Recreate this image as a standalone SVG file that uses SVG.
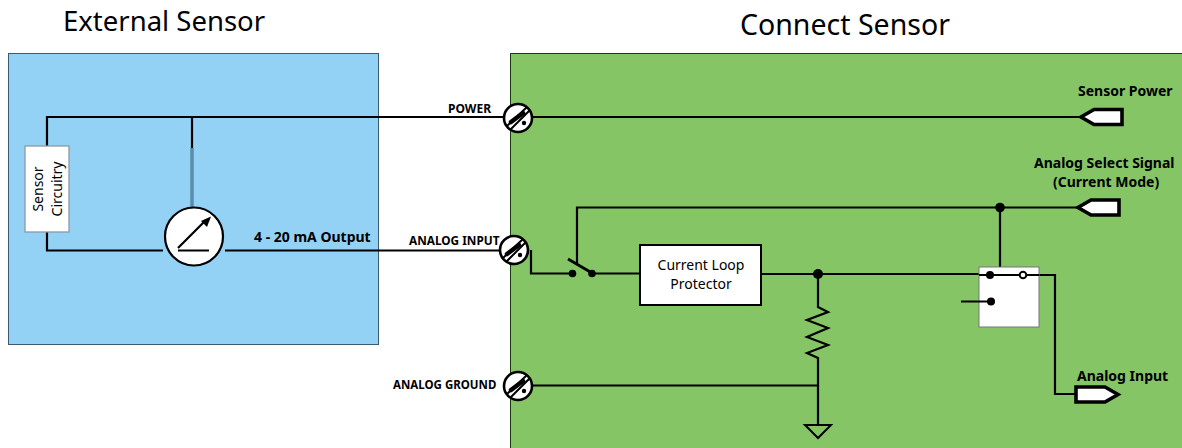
<svg xmlns="http://www.w3.org/2000/svg" width="1182" height="448" viewBox="0 0 1182 448">
<style>
text{font-family:"Noto Sans","Open Sans",sans-serif;fill:#000}
.b{font-size:12px;font-weight:700}
.l{font-size:14px;font-weight:700}
.w{fill:none;stroke:#000;stroke-width:2.2}
.m{font-size:14px}
.p{fill:#fff;stroke:#000;stroke-width:3.6}
.d{fill:#000}
</style>
<defs>
<g id="terminal">
<circle r="14" fill="#fff" stroke="#000" stroke-width="2.600"/>
<path d="M-11 8L9 -11M-8 12L12 -8" fill="none" stroke="#000" stroke-width="2"/>
<path d="M-7 4L5 -5" fill="none" stroke="#000" stroke-width="4.500" stroke-linecap="round"/>
<circle cx="6" cy="5" r="2.200" fill="#000"/>
</g>
</defs>
<rect width="1182" height="448" fill="#fff"/>
<g id="external-sensor">
<rect x="8.500" y="53.500" width="370" height="291" fill="#93d2f5" stroke="#3a5a70" stroke-width="1"/>
<text x="63" y="31" font-size="27.500">External Sensor</text>
</g>
<g id="connect-sensor">
<rect x="510.500" y="53.500" width="680" height="400" fill="#85c566" stroke="#1c3a12" stroke-width="1"/>
<text x="740" y="35" font-size="28.500">Connect Sensor</text>
</g>
<g id="connectors">
<path class="w" d="M47 146V117H503M532 117H1080"/>
<path class="w" d="M192 117V149"/>
<path d="M192 148V207" fill="none" stroke="#5b8cab" stroke-width="3.500"/>
<path class="w" d="M47 232V250.500H163M225 250.500H500"/>
<path class="w" d="M531 250V273.500H570M592 273.500H640M761 274H979M1039 275H1055V394H1075"/>
<path class="w" d="M577 263V207.500H1077M1000 207.500V267"/>
<path class="w" d="M818 274V307L828 312L807 320L828 328L807 337L828 345L807 353L818 358V425"/>
<path class="w" d="M532 385.500H818"/>
<path d="M568 259L592 273" fill="none" stroke="#000" stroke-width="2.800"/>
<circle class="d" cx="1000" cy="207.500" r="4.800"/>
<circle class="d" cx="818" cy="274" r="5"/>
<circle class="d" cx="572.500" cy="273.500" r="3.800"/>
<circle class="d" cx="592" cy="273.500" r="3.800"/>
</g>
<g id="sensor-circuitry">
<rect x="25" y="146" width="44" height="86" fill="#fff" stroke="#8a9aa3" stroke-width="1.300"/>
<text class="m" transform="translate(43 189) rotate(-90)" text-anchor="middle">Sensor</text>
<text class="m" transform="translate(62 189) rotate(-90)" text-anchor="middle">Circuitry</text>
</g>
<g id="meter">
<circle cx="194" cy="236.500" r="29" fill="#fff" stroke="#000" stroke-width="2.200"/>
<path class="w" d="M178 250.500H209M178 248L206 220"/>
<path class="d" d="M211 216.500L207 227L201 221Z"/>
</g>
<text class="l" x="254" y="242">4 - 20 mA Output</text>
<g id="terminal-power">
<use href="#terminal" x="518" y="118"/>
<text class="b" x="448" y="113">POWER</text>
</g>
<g id="terminal-analog-input">
<use href="#terminal" x="514" y="250"/>
<text class="b" x="409" y="245" font-size="11.800" style="font-size:11.800px">ANALOG INPUT</text>
</g>
<g id="terminal-analog-ground">
<use href="#terminal" x="518" y="386"/>
<text class="b" x="393" y="389" style="font-size:11.500px">ANALOG GROUND</text>
</g>
<g id="current-loop-protector">
<rect x="640" y="245" width="121" height="60" fill="#fff" stroke="#000" stroke-width="2"/>
<text class="m" x="701" y="270" text-anchor="middle">Current Loop</text>
<text class="m" x="701" y="289" text-anchor="middle">Protector</text>
</g>
<g id="relay">
<rect x="979" y="267" width="60" height="60" fill="#fff" stroke="#777" stroke-width="1"/>
<path class="w" d="M961 301.500H990M979 275H1039"/>
<circle class="d" cx="990" cy="275" r="4"/>
<circle cx="1023" cy="275" r="3.300" fill="#fff" stroke="#000" stroke-width="2"/>
<circle class="d" cx="991" cy="301.500" r="4"/>
</g>
<g id="ground">
<path d="M805 425H831L818 438Z" fill="none" stroke="#000" stroke-width="2"/>
</g>
<g id="port-sensor-power">
<path class="p" d="M1122 109.500H1094L1081 117L1094 124.500H1122Z"/>
<text class="l" x="1078" y="96">Sensor Power</text>
</g>
<g id="port-select-signal">
<path class="p" d="M1119 200H1091L1078 207.500L1091 215H1119Z"/>
<text class="l" x="1034" y="168">Analog Select Signal</text>
<text class="l" x="1053" y="187">(Current Mode)</text>
</g>
<g id="port-analog-input">
<path class="p" d="M1076 387H1105L1118 394.500L1105 402H1076Z"/>
<text class="l" x="1077" y="381">Analog Input</text>
</g>
</svg>
